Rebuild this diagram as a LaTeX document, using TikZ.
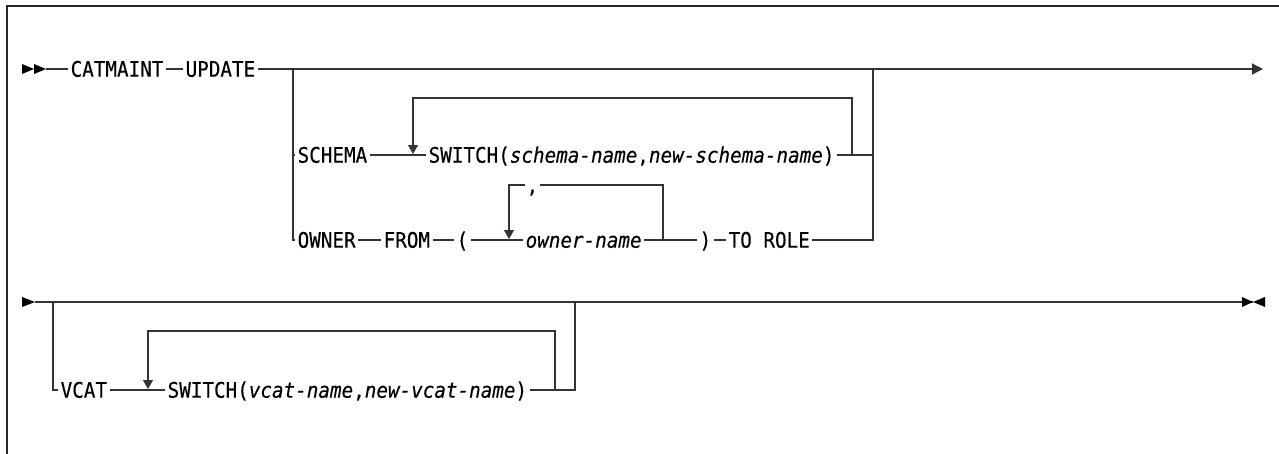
\documentclass[tikz,border=0pt]{standalone}
\usepackage{fontspec}
\newfontfamily\dm[FakeStretch=0.9,FakeBold=0.3]{DejaVu Sans Mono}
\usetikzlibrary{arrows.meta}
\begin{document}
\begin{tikzpicture}[x=1pt,y=-1pt, line width=1.3pt, draw=black!80,
  lbl/.style={anchor=west, inner xsep=2pt, inner ysep=0pt, text height=15.4pt, text depth=0pt, font=\dm\fontsize{21.4}{22}\selectfont},
  tip/.style={-{Triangle[width=10pt,length=9pt]}},
  endtip/.style={-{Triangle[width=11pt,length=11pt]}}]
\useasboundingbox (0,0) rectangle (1279,453);
% frame
\draw[line width=1.2pt, black!85] (1285,6) -- (7,6) -- (7,460);

% ---- line 1 ----
\fill (22,64) -- (34,69) -- (22,74) -- cycle;
\fill (34,64) -- (46,69) -- (34,74) -- cycle;
\coordinate (s1) at (46,69);
\node[lbl] (cat) at (68,69) {CATMAINT};
\node[lbl] (upd) at (183,69) {UPDATE};
\coordinate (e1) at (1263,69);
\coordinate (j1) at (293,69);
\coordinate (j2) at (873,69);
\draw (s1) -- (cat.west);
\draw (cat.east) -- (upd.west);
\draw[endtip] (upd.east) -- (e1);

% SCHEMA row
\node[lbl] (sch) at (295,155) {SCHEMA};
\node[lbl] (sw1) at (426,155) {SWITCH(\textit{schema-name},\textit{new-schema-name})};
\coordinate (l1t) at (413,98);
\coordinate (l1r) at (852,98);
\coordinate (l1b) at (413,154);
\draw (j1) |- (sch.west);
\draw (sch.east) -- (sw1.west);
\draw (sw1.east) -- (sw1.east -| j2);
\draw[tip] (sw1.east -| l1r) -- (l1r) -- (l1t) -- (l1b);

% OWNER row
\node[lbl] (own) at (295,240) {OWNER};
\node[lbl] (frm) at (381,240) {FROM};
\node[lbl] (lp) at (454,240) {(};
\node[lbl] (onm) at (523,240) {\textit{owner-name}};
\node[lbl] (rp) at (697,240) {)};
\node[lbl] (tor) at (726,240) {TO ROLE};
\node[lbl, inner xsep=1pt] (cm) at (525,185) {,};
\coordinate (l2l) at (509,185);
\coordinate (l2b) at (509,239);
\coordinate (l2r) at (663,185);
\draw (j1) |- (own.west);
\draw (own.east) -- (frm.west);
\draw (frm.east) -- (lp.west);
\draw (lp.east) -- (onm.west);
\draw (onm.east) -- (rp.west);
\draw (rp.east) -- (tor.west);
\draw (tor.east) -| (j2);
\draw[tip] (cm.west) -- (l2l) -- (l2b);
\draw (cm.east) -- (l2r) -- (l2r |- onm.east);

% ---- line 2 ----
\fill (22,297) -- (35,302) -- (22,307) -- cycle;
\coordinate (s2) at (35,302);
\coordinate (j3) at (53,302);
\coordinate (j4) at (575,302);
\coordinate (e2) at (1253,302);
\draw (s2) -- (e2);
\fill (1242,297) -- (1253,302) -- (1242,307) -- cycle;
\fill (1265,297) -- (1253,302) -- (1265,307) -- cycle;

\node[lbl] (vc) at (58,390) {VCAT};
\node[lbl] (sw2) at (165,390) {SWITCH(\textit{vcat-name},\textit{new-vcat-name})};
\coordinate (l3t) at (148,331);
\coordinate (l3r) at (555,331);
\coordinate (l3b) at (148,389);
\draw (j3) |- (vc.west);
\draw (vc.east) -- (sw2.west);
\draw (sw2.east) -| (j4);
\draw[tip] (sw2.east -| l3r) -- (l3r) -- (l3t) -- (l3b);
\end{tikzpicture}
\end{document}
